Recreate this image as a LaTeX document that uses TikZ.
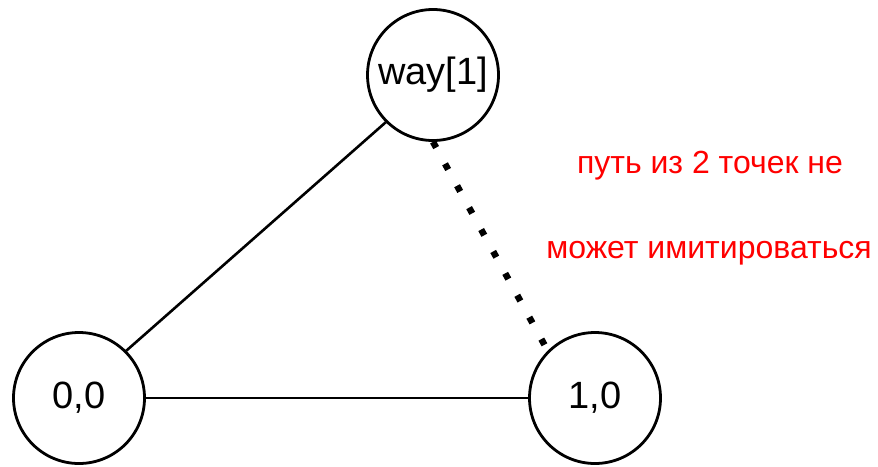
\documentclass[tikz,border=0pt]{standalone}
\usepackage{fontspec}
\setmainfont{Liberation Sans}
\usetikzlibrary{positioning}

\begin{document}
\begin{tikzpicture}[x=1pt,y=-1pt,
    vertex/.style={circle,draw,line width=2.8pt,minimum size=131pt,inner sep=0pt,font=\fontsize{38}{46}\selectfont},
    link/.style={line width=2.6pt},
    note/.style={anchor=base,text=red,font=\fontsize{32}{38}\selectfont}]
  \useasboundingbox (0,0) rectangle (878,466);
  \node[vertex] (w) at (433,75) {way[1]};
  \node[vertex] (a) at (79,398) {0,0};
  \node[vertex] (b) at (595,398) {1,0};
  \draw[link] (a.north east) -- (w.south west);
  \draw[link] (a.east) -- (b.west);
  \draw[line width=6.5pt,dash pattern=on 6.5pt off 18.5pt] (w.south) -- (b.north west);
  \node[note] (n1) at (710,173) {путь из 2 точек не};
  \node[note] (n2) at (709,258) {может имитироваться};
\end{tikzpicture}
\end{document}
